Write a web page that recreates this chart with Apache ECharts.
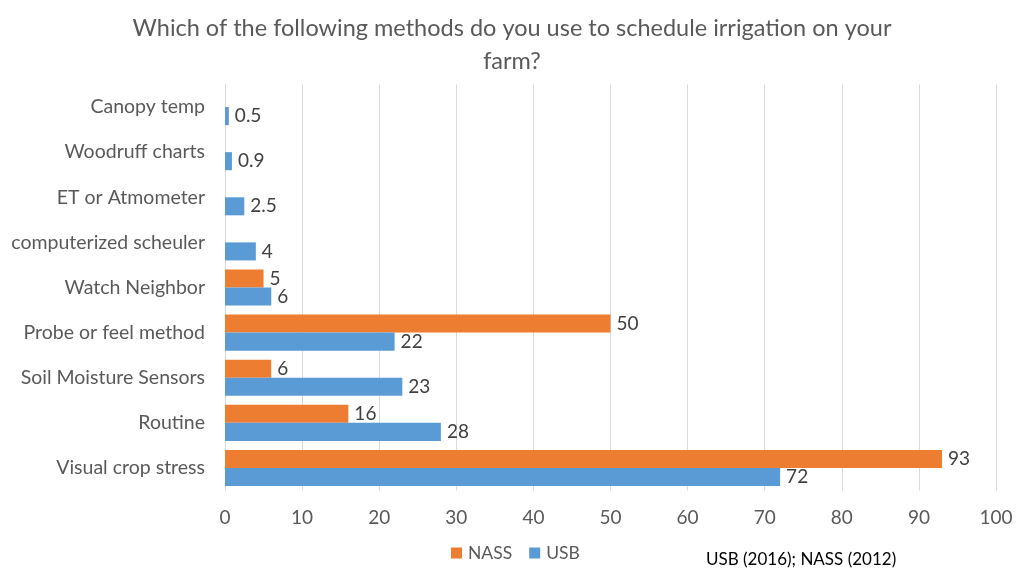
<!DOCTYPE html>
<html><head><meta charset="utf-8">
<script src="https://cdn.jsdelivr.net/npm/echarts@6/dist/echarts.min.js"></script>
<style>html,body{margin:0;padding:0;background:#fff}#c{width:1024px;height:576px}</style>
</head><body><div id="c"></div>
<script>
const categories = ['Visual crop stress','Routine','Soil Moisture Sensors','Probe or feel method','Watch Neighbor','computerized scheuler','ET or Atmometer','Woodruff charts','Canopy temp'];
const nassValues = [93, 16, 6, 50, 5, null, null, null, null];
const usbValues = [72, 28, 23, 22, 6, 4, 2.5, 0.9, 0.5];
const xTicks = [0,10,20,30,40,50,60,70,80,90,100];
const titleText = 'Which of the following methods do you use to schedule irrigation on your\nfarm?';
const sourceText = 'USB (2016); NASS (2012)';

const FONT = 'Lato';
const chart = echarts.init(document.getElementById('c'));
chart.setOption({
  animation: false,
  textStyle: {fontFamily: FONT},
  title: {
    text: titleText, left: 'center', top: 7,
    textStyle: {fontFamily: FONT, fontSize: 23.5, fontWeight: 'normal', color: '#595959', lineHeight: 33}
  },
  legend: {
    data: ['NASS','USB'], left: 451, top: 544, padding: 0,
    itemWidth: 11, itemHeight: 11, itemGap: 17, icon: 'rect',
    textStyle: {fontFamily: FONT, fontSize: 17.5, color: '#595959', padding: [0,0,0,1]}
  },
  graphic: [{
    type: 'text', left: 706, top: 551,
    style: {text: sourceText, font: '17px ' + FONT, fill: '#000'}
  }],
  grid: {left: 225, right: 28, top: 84.5, bottom: 85.5, containLabel: false},
  xAxis: {
    type: 'value', min: xTicks[0], max: xTicks[xTicks.length-1], interval: 10,
    axisLine: {show: false}, axisTick: {show: false},
    splitLine: {lineStyle: {color: '#d9d9d9', width: 1}},
    axisLabel: {fontFamily: FONT, fontSize: 19, color: '#595959', margin: 18}
  },
  yAxis: {
    type: 'category', data: categories,
    axisLine: {show: true, lineStyle: {color: '#d9d9d9'}}, axisTick: {show: false},
    axisLabel: {fontFamily: FONT, fontSize: 19.5, color: '#595959', margin: 20, verticalAlign: 'middle'}
  },
  series: [
    {
      name: 'NASS', type: 'bar', data: nassValues, barGap: '0%', barCategoryGap: '20%',
      itemStyle: {color: '#ED7D31'},
      label: {show: true, position: 'right', distance: 6, fontFamily: FONT, fontSize: 19, color: '#404040'}
    },
    {
      name: 'USB', type: 'bar', data: usbValues, barGap: '0%', barCategoryGap: '20%',
      itemStyle: {color: '#5B9BD5'},
      label: {show: true, position: 'right', distance: 6, fontFamily: FONT, fontSize: 19, color: '#404040'}
    }
  ]
});
</script></body></html>
